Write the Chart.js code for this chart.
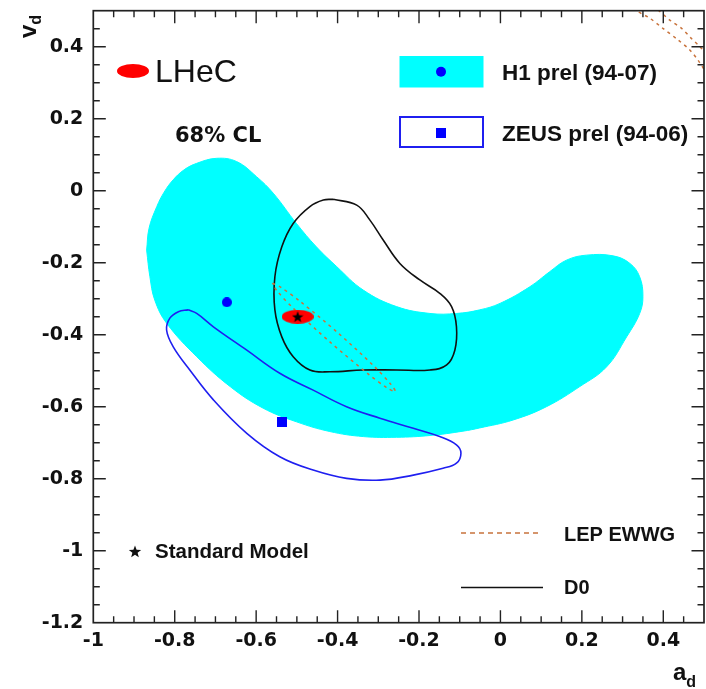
<!DOCTYPE html>
<html>
<head>
<meta charset="utf-8">
<script src="https://cdn.jsdelivr.net/npm/chart.js@4.4.1/dist/chart.umd.min.js"></script>
<style>
html,body{margin:0;padding:0;background:#fff;}
#wrap{width:706px;height:689px;}
</style>
</head>
<body>
<div id="wrap"><canvas id="c" width="706" height="689"></canvas></div>
<script>
// ---- axes ----
const X_MIN = -1, X_MAX = 0.5, Y_MIN = -1.2, Y_MAX = 0.5;
const xTickVals = [-1, -0.8, -0.6, -0.4, -0.2, 0, 0.2, 0.4];
const yTickVals = [-1.2, -1, -0.8, -0.6, -0.4, -0.2, 0, 0.2, 0.4];
const MINOR_STEP = 0.05;

// ---- H1 prel (94-07) 68% CL band ----
const h1X = [-0.869,-0.863,-0.844,-0.826,-0.804,-0.777,-0.746,-0.697,-0.648,-0.599,-0.558,-0.501,-0.452,-0.402,-0.337,-0.255,-0.173,-0.108,-0.051,-0.001,0.072,0.121,0.162,0.211,0.277,0.318,0.342,0.350,0.342,0.310,0.261,0.195,0.113,0.031,-0.051,-0.092,-0.173,-0.255,-0.337,-0.419,-0.501,-0.583,-0.664,-0.746,-0.820,-0.849,-0.861,-0.869];
const h1Y = [-0.165,-0.104,-0.044,-0.004,0.030,0.058,0.076,0.090,0.081,0.039,-0.007,-0.091,-0.156,-0.211,-0.276,-0.322,-0.341,-0.341,-0.331,-0.313,-0.267,-0.225,-0.193,-0.179,-0.181,-0.202,-0.239,-0.294,-0.341,-0.406,-0.489,-0.544,-0.600,-0.637,-0.659,-0.668,-0.680,-0.685,-0.683,-0.669,-0.642,-0.604,-0.544,-0.461,-0.368,-0.304,-0.239,-0.165];
const h1Central = [-0.672, -0.310];

// ---- ZEUS prel (94-06) contour ----
const zeusX = [-0.767,-0.746,-0.705,-0.623,-0.542,-0.460,-0.378,-0.296,-0.214,-0.149,-0.108,-0.097,-0.108,-0.141,-0.214,-0.296,-0.378,-0.460,-0.542,-0.623,-0.705,-0.763,-0.804,-0.820,-0.812,-0.791,-0.767];
const zeusY = [-0.331,-0.341,-0.378,-0.443,-0.507,-0.554,-0.600,-0.632,-0.660,-0.683,-0.706,-0.729,-0.757,-0.771,-0.790,-0.804,-0.799,-0.776,-0.739,-0.674,-0.581,-0.498,-0.433,-0.387,-0.354,-0.336,-0.331];
const zeusCentral = [-0.537, -0.642];

// ---- D0 contour ----
const d0X = [-0.411,-0.353,-0.321,-0.288,-0.247,-0.198,-0.149,-0.120,-0.108,-0.112,-0.132,-0.173,-0.255,-0.337,-0.419,-0.468,-0.509,-0.537,-0.554,-0.554,-0.537,-0.509,-0.468,-0.435,-0.411];
const d0Y = [-0.024,-0.040,-0.081,-0.137,-0.202,-0.248,-0.285,-0.322,-0.378,-0.443,-0.484,-0.498,-0.498,-0.498,-0.503,-0.498,-0.461,-0.406,-0.331,-0.239,-0.156,-0.091,-0.044,-0.026,-0.024];

// ---- LEP EWWG contours ----
const lepX = [-0.560,-0.541,-0.492,-0.399,-0.310,-0.269,-0.258,-0.277,-0.326,-0.419,-0.508,-0.549,-0.560];
const lepY = [-0.257,-0.267,-0.3075,-0.395,-0.488,-0.538,-0.558,-0.549,-0.508,-0.420,-0.3275,-0.278,-0.257];
const lepArcAX = [0.310,0.338,0.367,0.399,0.436,0.465,0.485,0.510];
const lepArcAY = [0.515,0.497,0.479,0.451,0.419,0.391,0.363,0.320];
const lepArcBX = [0.360,0.387,0.416,0.445,0.469,0.490,0.510];
const lepArcBY = [0.525,0.502,0.474,0.451,0.423,0.400,0.375];

// ---- LHeC / Standard Model point ----
const smPoint = [-0.498, -0.350];

function pts(xs, ys) { return xs.map((x, i) => ({ x: x, y: ys[i] })); }

function makeCanvas(w, h, draw) {
  const c = document.createElement('canvas');
  c.width = w; c.height = h;
  draw(c.getContext('2d'));
  return c;
}
function makeEllipse(w, h, color) {
  return makeCanvas(w, h, g => { g.fillStyle = color; g.beginPath(); g.ellipse(w / 2, h / 2, w / 2, h / 2, 0, 0, Math.PI * 2); g.fill(); });
}
function makeSquare(s, color) {
  return makeCanvas(s, s, g => { g.fillStyle = color; g.fillRect(0, 0, s, s); });
}
function starPath(g, cx, cy, R) {
  const r = R * 0.42;
  g.beginPath();
  for (let k = 0; k < 10; k++) {
    const ang = -Math.PI / 2 + k * Math.PI / 5;
    const rad = (k % 2 === 0) ? R : r;
    const px = cx + rad * Math.cos(ang), py = cy + rad * Math.sin(ang);
    if (k === 0) g.moveTo(px, py); else g.lineTo(px, py);
  }
  g.closePath();
}
function makeStar(size, color) {
  return makeCanvas(size, size, g => { g.fillStyle = color; starPath(g, size / 2, size / 2 + 0.5, size / 2); g.fill(); });
}

const CYAN = '#00ffff', BLUE = '#0000ff', ZBLUE = '#1f1ff0', LEPC = '#c8733c';
const TXT = '#111';

const frameTicks = {
  id: 'frameTicks',
  afterDatasetsDraw(chart) {
    const { ctx, chartArea: a, scales } = chart;
    const xs = scales.x, ys = scales.y;
    ctx.save();
    ctx.strokeStyle = '#222';
    ctx.lineWidth = 1.4;
    ctx.beginPath();
    const nx = Math.round((X_MAX - X_MIN) / MINOR_STEP);
    for (let i = 1; i < nx; i++) {
      const v = X_MIN + i * MINOR_STEP;
      const major = xTickVals.some(t => Math.abs(t - v) < 1e-6);
      const L = major ? 12.5 : 6.5;
      const px = xs.getPixelForValue(v);
      ctx.moveTo(px, a.bottom); ctx.lineTo(px, a.bottom - L);
      ctx.moveTo(px, a.top); ctx.lineTo(px, a.top + L);
    }
    const ny = Math.round((Y_MAX - Y_MIN) / MINOR_STEP);
    for (let i = 1; i < ny; i++) {
      const v = Y_MIN + i * MINOR_STEP;
      const major = yTickVals.some(t => Math.abs(t - v) < 1e-6);
      const L = major ? 12.5 : 6.5;
      const py = ys.getPixelForValue(v);
      ctx.moveTo(a.left, py); ctx.lineTo(a.left + L, py);
      ctx.moveTo(a.right, py); ctx.lineTo(a.right - L, py);
    }
    ctx.stroke();
    ctx.lineWidth = 1.7;
    ctx.strokeRect(a.left, a.top, a.right - a.left, a.bottom - a.top);
    ctx.restore();
  }
};

const annotations = {
  id: 'annotations',
  afterDraw(chart) {
    const ctx = chart.ctx;
    ctx.save();
    ctx.fillStyle = TXT;
    ctx.textBaseline = 'alphabetic';
    ctx.textAlign = 'left';

    // LHeC legend
    ctx.fillStyle = '#ff0000';
    ctx.beginPath(); ctx.ellipse(133, 71, 16, 7, 0, 0, Math.PI * 2); ctx.fill();
    ctx.fillStyle = TXT;
    ctx.font = '32px "Liberation Sans", Arial, sans-serif';
    ctx.fillText('LHeC', 155, 82);
    ctx.font = 'bold 21px "DejaVu Sans", sans-serif';
    ctx.fillText('68% CL', 175, 142);

    // H1 legend
    ctx.fillStyle = CYAN;
    ctx.fillRect(399.5, 56, 84, 31.5);
    ctx.fillStyle = BLUE;
    ctx.beginPath(); ctx.arc(441, 71.7, 5, 0, Math.PI * 2); ctx.fill();
    // ZEUS legend
    ctx.strokeStyle = ZBLUE; ctx.lineWidth = 2;
    ctx.strokeRect(400, 117, 83, 30);
    ctx.fillStyle = BLUE;
    ctx.fillRect(436, 128, 10, 10);

    ctx.fillStyle = TXT;
    ctx.font = 'bold 22.5px "Liberation Sans", Arial, sans-serif';
    ctx.fillText('H1 prel (94-07)', 502, 80);
    ctx.fillText('ZEUS prel (94-06)', 502, 141);

    // LEP / D0 legend
    ctx.strokeStyle = LEPC; ctx.lineWidth = 1.6; ctx.setLineDash([5, 4]);
    ctx.beginPath(); ctx.moveTo(461, 533); ctx.lineTo(542, 533); ctx.stroke();
    ctx.setLineDash([]);
    ctx.strokeStyle = '#111'; ctx.lineWidth = 1.6;
    ctx.beginPath(); ctx.moveTo(461, 587.5); ctx.lineTo(543, 587.5); ctx.stroke();
    ctx.font = 'bold 20px "Liberation Sans", Arial, sans-serif';
    ctx.fillText('LEP EWWG', 564, 541);
    ctx.fillText('D0', 564, 594);

    // Standard Model legend
    starPath(ctx, 135, 552, 6.5); ctx.fill();
    ctx.font = 'bold 20.5px "Liberation Sans", Arial, sans-serif';
    ctx.fillText('Standard Model', 155, 557.5);

    // axis titles
    ctx.save();
    ctx.translate(36, 38);
    ctx.rotate(-Math.PI / 2);
    ctx.font = 'bold 24px "Liberation Sans", Arial, sans-serif';
    ctx.fillText('v', 0, 0);
    const vw = ctx.measureText('v').width;
    ctx.font = 'bold 16px "Liberation Sans", Arial, sans-serif';
    ctx.fillText('d', vw, 5);
    ctx.restore();

    ctx.font = 'bold 24px "Liberation Sans", Arial, sans-serif';
    ctx.fillText('a', 673, 680);
    const aw = ctx.measureText('a').width;
    ctx.font = 'bold 16px "Liberation Sans", Arial, sans-serif';
    ctx.fillText('d', 673 + aw, 687);
    ctx.restore();
  }
};

const lineStyle = { showLine: true, pointRadius: 0, pointHoverRadius: 0, pointBorderWidth: 0, fill: false };
const markStyle = { pointRadius: 1, pointHoverRadius: 0, pointBorderWidth: 0, borderWidth: 0 };

new Chart(document.getElementById('c'), {
  type: 'scatter',
  data: {
    datasets: [
      Object.assign({}, lineStyle, { label: 'H1 prel (94-07)', data: pts(h1X, h1Y), fill: 'shape', backgroundColor: CYAN, borderColor: CYAN, borderWidth: 1, tension: 0.4, order: 10 }),
      Object.assign({}, lineStyle, { label: 'ZEUS prel (94-06)', data: pts(zeusX, zeusY), borderColor: ZBLUE, borderWidth: 1.6, tension: 0.4, order: 8 }),
      Object.assign({}, lineStyle, { label: 'D0', data: pts(d0X, d0Y), borderColor: '#111', borderWidth: 1.6, tension: 0.4, order: 7 }),
      Object.assign({}, lineStyle, { label: 'LEP EWWG', data: pts(lepX, lepY), borderColor: LEPC, borderWidth: 1.5, borderDash: [3, 4], tension: 0.3, order: 6 }),
      Object.assign({}, lineStyle, { label: 'LEP EWWG b', data: pts(lepArcAX, lepArcAY), borderColor: LEPC, borderWidth: 1.5, borderDash: [3, 4], tension: 0.3, order: 6 }),
      Object.assign({}, lineStyle, { label: 'LEP EWWG c', data: pts(lepArcBX, lepArcBY), borderColor: LEPC, borderWidth: 1.5, borderDash: [3, 4], tension: 0.3, order: 6 }),
      Object.assign({}, markStyle, { label: 'H1 central', data: [{ x: h1Central[0], y: h1Central[1] }], pointStyle: makeEllipse(10, 10, BLUE), order: 3 }),
      Object.assign({}, markStyle, { label: 'ZEUS central', data: [{ x: zeusCentral[0], y: zeusCentral[1] }], pointStyle: makeSquare(10, BLUE), order: 3 }),
      Object.assign({}, markStyle, { label: 'LHeC', data: [{ x: smPoint[0], y: smPoint[1] }], pointStyle: makeEllipse(32, 14, '#ff0000'), order: 2 }),
      Object.assign({}, markStyle, { label: 'Standard Model', data: [{ x: smPoint[0], y: smPoint[1] }], pointStyle: makeStar(12, '#000'), order: 1 })
    ]
  },
  options: {
    responsive: false,
    animation: false,
    events: [],
    layout: { padding: { left: 0, top: 10.7, right: 2, bottom: 0 } },
    plugins: { legend: { display: false }, tooltip: { enabled: false } },
    scales: {
      x: {
        type: 'linear', min: X_MIN, max: X_MAX,
        afterBuildTicks: s => { s.ticks = xTickVals.map(v => ({ value: v })); },
        afterFit: s => { s.height = 66.3; s.paddingLeft = 0; s.paddingRight = 0; },
        grid: { display: false, drawTicks: false },
        border: { display: false },
        ticks: { padding: 7, color: TXT, font: { family: '"DejaVu Sans", sans-serif', weight: 'bold', size: 19 }, maxRotation: 0, autoSkip: false, callback: v => String(v) }
      },
      y: {
        type: 'linear', min: Y_MIN, max: Y_MAX,
        afterBuildTicks: s => { s.ticks = yTickVals.map(v => ({ value: v })); },
        afterFit: s => { s.width = 93.3; s.paddingTop = 0; s.paddingBottom = 0; },
        grid: { display: false, drawTicks: false },
        border: { display: false },
        ticks: { padding: 10, color: TXT, font: { family: '"DejaVu Sans", sans-serif', weight: 'bold', size: 19 }, autoSkip: false, callback: v => String(v) }
      }
    }
  },
  plugins: [frameTicks, annotations]
});
</script>
</body>
</html>
